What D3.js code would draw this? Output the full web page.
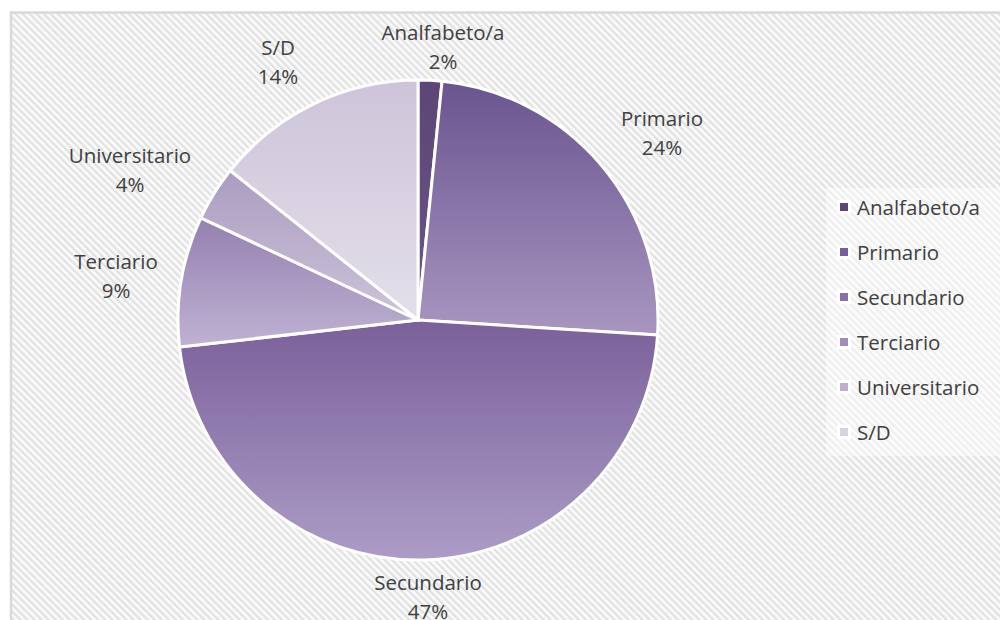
<!DOCTYPE html>
<html lang="es">
<head>
<meta charset="UTF-8">
<title>Nivel educativo</title>
<script src="https://d3js.org/d3.v7.min.js"></script>
<style>
  body { margin: 0; padding: 0; background: #fff; }
  svg { display: block; }
  text { font-family: "Open Sans", "Noto Sans", sans-serif; fill: #404040; }
</style>
</head>
<body>
<script>
// data
const categories = ["Analfabeto/a", "Primario", "Secundario", "Terciario", "Universitario", "S/D"];
const values = [1.6, 24.4, 47.2, 8.8, 3.7, 14.3];
const pctLabels = ["2%", "24%", "47%", "9%", "4%", "14%"];
// gradient colours per slice: [top, bottom]
const topColors = ["#5c4677", "#6a548f", "#7a609a", "#9580b0", "#aa9cc0", "#cdc4d9"];
const bottomColors = ["#6a5589", "#a896c0", "#ac9cc6", "#bfb2d3", "#cdc4da", "#e3dfea"];
const legendColors = ["#5c4677", "#76609a", "#8a70a8", "#a08cb8", "#bcb0cc", "#d8d2e2"];

const W = 1000, H = 620;
const cx = 418, cy = 320, R = 240;

const svg = d3.select("body").append("svg")
    .attr("width", W)
    .attr("height", H);

const defs = svg.append("defs");

// diagonal hatch background
const pat = defs.append("pattern")
    .attr("id", "hatch")
    .attr("patternUnits", "userSpaceOnUse")
    .attr("width", 5)
    .attr("height", 5)
    .attr("patternTransform", "rotate(-45)");
pat.append("rect").attr("width", 5).attr("height", 5).attr("fill", "#fbfbfb");
pat.append("rect").attr("width", 2.4).attr("height", 5).attr("fill", "#e2e2e2");

categories.forEach((c, i) => {
    const g = defs.append("linearGradient")
        .attr("id", "grad" + i)
        .attr("x1", 0).attr("y1", 0)
        .attr("x2", 0).attr("y2", 1);
    g.append("stop").attr("offset", "0%").attr("stop-color", topColors[i]);
    g.append("stop").attr("offset", "100%").attr("stop-color", bottomColors[i]);
});

// chart area
svg.append("rect")
    .attr("x", 11).attr("y", 12.5)
    .attr("width", W + 20).attr("height", H + 20)
    .attr("fill", "url(#hatch)")
    .attr("stroke", "#d9d9d9")
    .attr("stroke-width", 2.5);

const pie = d3.pie().sort(null).value(d => d);
const arcs = pie(values);
const arc = d3.arc().innerRadius(0).outerRadius(R);

const gPie = svg.append("g").attr("transform", `translate(${cx},${cy})`);

gPie.selectAll("path")
    .data(arcs)
    .join("path")
    .attr("d", arc)
    .attr("fill", (d, i) => `url(#grad${i})`)
    .attr("stroke", "#fff")
    .attr("stroke-width", 3)
    .attr("stroke-linejoin", "round");

// data labels (outside end)
const labelPos = [
    [443, 40], [662, 126], [428, 590], [116, 269], [130, 163], [278, 55]
];
const lbl = svg.append("g");
arcs.forEach((d, i) => {
    const t = lbl.append("text")
        .attr("x", labelPos[i][0])
        .attr("y", labelPos[i][1])
        .attr("text-anchor", "middle")
        .style("font-size", "20.5px");
    t.append("tspan").attr("x", labelPos[i][0]).text(categories[i]);
    t.append("tspan").attr("x", labelPos[i][0]).attr("dy", 28.5).text(pctLabels[i]);
});

// legend
const leg = svg.append("g");
leg.append("rect")
    .attr("x", 826).attr("y", 188)
    .attr("width", 180).attr("height", 268)
    .attr("fill", "#fff")
    .attr("fill-opacity", 0.45);

const legY = d3.scalePoint().domain(categories).range([208, 433]);
const items = leg.selectAll("g.item")
    .data(categories)
    .join("g")
    .attr("class", "item")
    .attr("transform", d => `translate(837,${legY(d)})`);
items.append("rect")
    .attr("x", 0).attr("y", -8)
    .attr("width", 14).attr("height", 14)
    .attr("fill", "#fff");
items.append("rect")
    .attr("x", 3).attr("y", -5)
    .attr("width", 8).attr("height", 8)
    .attr("fill", (d, i) => legendColors[i]);
items.append("text")
    .attr("x", 20).attr("y", 6.5)
    .style("font-size", "20.5px")
    .text(d => d);
</script>
</body>
</html>
